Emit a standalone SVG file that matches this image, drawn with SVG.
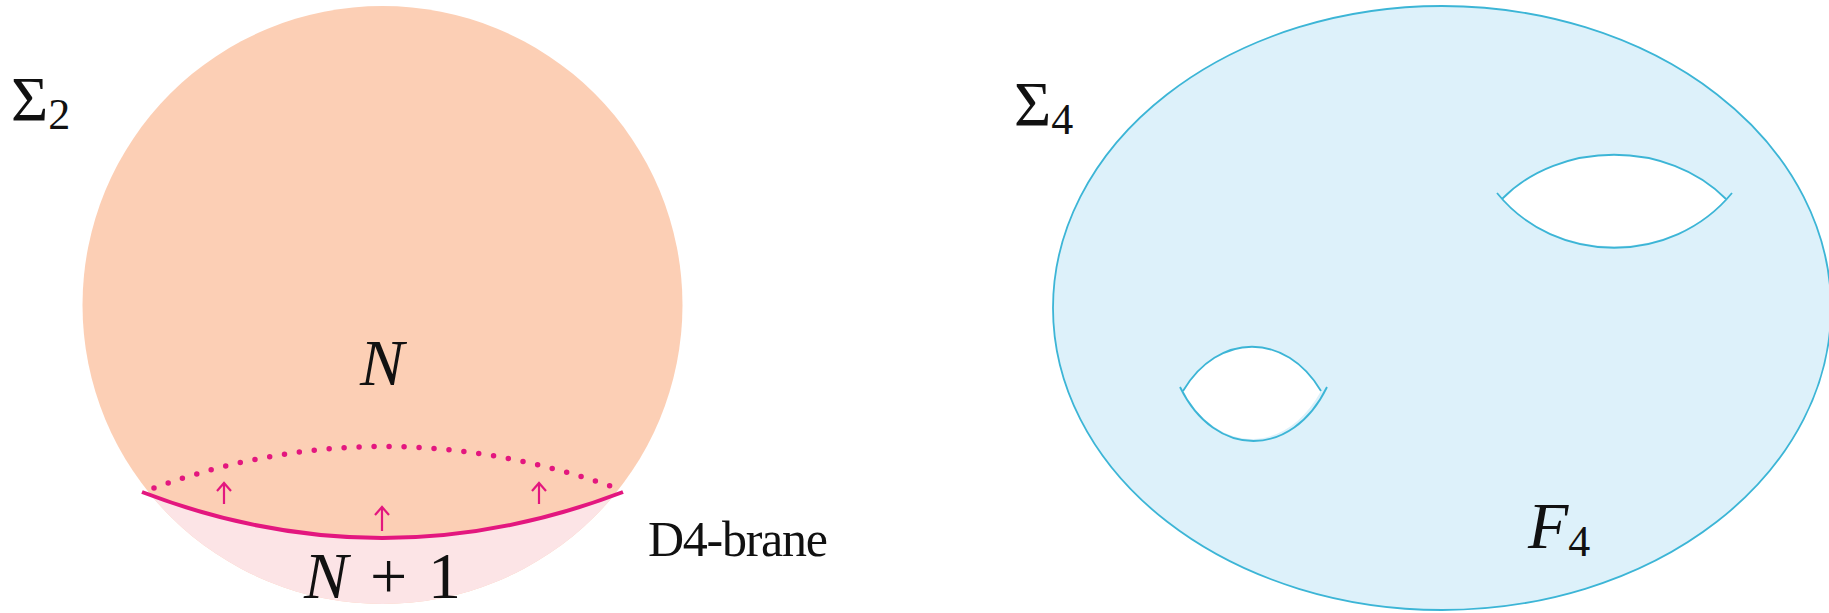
<svg xmlns="http://www.w3.org/2000/svg" width="1829" height="613" viewBox="0 0 1829 613">
<style>
.t{font-family:"Liberation Serif","DejaVu Serif",serif;fill:#111}
.i{font-style:italic}
.mag{stroke:#E3177F;fill:none}
.hole{stroke:#3CB5D6;stroke-width:1.8;fill:none}
</style>
<defs>
<clipPath id="disk"><ellipse cx="382.5" cy="305" rx="300" ry="299"/></clipPath>
</defs>
<rect width="1829" height="613" fill="#fff"/>
<g id="sigma2-disk">
<ellipse cx="382.5" cy="305" rx="300" ry="299" fill="#FCCFB5"/>
<path d="M100,492 L142,492 Q382,584 623,492 L680,492 L680,613 L100,613 Z" fill="#FCE4E6" clip-path="url(#disk)"/>
<path class="mag" d="M154,488 Q382,405 616,488" stroke-width="5.5" stroke-dasharray="0 15" stroke-linecap="round"/>
<path class="mag" d="M142,492 Q382,584 623,492" stroke-width="4"/>
<g class="mag" stroke-width="2.2">
<path d="M224,504 V483 M217,491 L224,483 L231,491"/>
<path d="M382,531 V507 M375,515 L382,507 L389,515"/>
<path d="M539,504 V483 M532,491 L539,483 L546,491"/>
</g>
</g>
<g id="labels-left">
<text class="t" x="11" y="121" font-size="64">Σ<tspan font-size="44" dy="8">2</tspan></text>
<text class="t i" x="382" y="385" font-size="66" text-anchor="middle">N</text>
<text class="t i" x="304" y="598" font-size="66">N</text>
<text class="t" x="370" y="598" font-size="66">+</text>
<text class="t" x="428" y="598" font-size="66">1</text>
<text class="t" x="648" y="556" font-size="50" textLength="180">D4-brane</text>
</g>
<g id="sigma4-surface">
<ellipse cx="1442" cy="308" rx="389" ry="302" fill="#DDF1FA" stroke="#3CB5D6" stroke-width="1.8"/>
<path d="M1502,199 C1560,140 1668,140 1726,199 C1668,262 1560,262 1502,199 Z" fill="#fff"/>
<path class="hole" d="M1497,193 C1556,266 1672,266 1732,193"/>
<path class="hole" d="M1502,199 C1560,140 1668,140 1726,199"/>
<path d="M1183,391 C1218,332 1286,332 1321,391 C1286,455 1218,455 1183,391 Z" fill="#fff"/>
<path class="hole" d="M1180,387 C1215,459 1292,459 1327,387"/>
<path class="hole" d="M1183,391 C1218,332 1286,332 1321,391"/>
</g>
<g id="labels-right">
<text class="t" x="1014" y="126" font-size="64">Σ<tspan font-size="44" dy="8">4</tspan></text>
<text class="t" x="1528" y="548" font-size="66"><tspan class="i">F</tspan><tspan font-size="44" dy="8">4</tspan></text>
</g>
</svg>
